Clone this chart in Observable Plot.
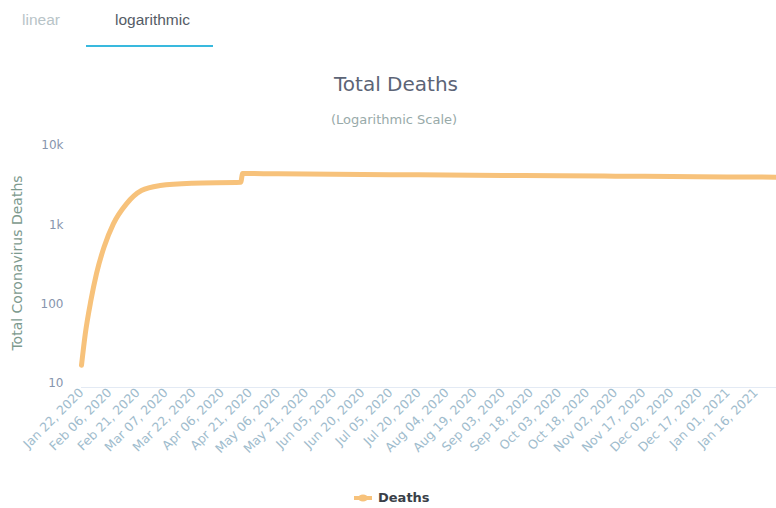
<!DOCTYPE html>
<html>
<head>
<meta charset="utf-8">
<script src="https://cdn.jsdelivr.net/npm/d3@7"></script>
<script src="https://cdn.jsdelivr.net/npm/@observablehq/plot@0.6"></script>
<style>
  html, body { margin: 0; padding: 0; background: #fff; }
  #wrap { position: relative; width: 776px; height: 508px; overflow: hidden; font-family: "DejaVu Sans", sans-serif; }
  .tab { position: absolute; top: 11px; font-family: "Liberation Sans", Arial, sans-serif; font-size: 15.5px; }
  #t1 { left: 22px; color: #b8c4c8; }
  #t2 { left: 115px; color: #555c66; }
  #ul { position: absolute; left: 86px; top: 45px; width: 127px; height: 2px; background: #39b9de; }
  #title { position: absolute; left: 246px; width: 300px; top: 72px; text-align: center; font-size: 20px; color: #5c6476; }
  #subtitle { position: absolute; left: 244px; width: 300px; top: 112px; text-align: center; font-size: 13px; color: #98aaa9; }
  #ytitle { position: absolute; left: 17px; top: 263px; transform: translate(-50%, -50%) rotate(-90deg); white-space: nowrap; font-size: 14px; color: #7d9a8e; }
  #chart { position: absolute; left: 0; top: 130px; }
  #legend { position: absolute; top: 490px; left: 354px; font-size: 13px; font-weight: bold; color: #3a3f48; display: flex; align-items: center; }
  #legend svg { margin-right: 6px; }
</style>
</head>
<body>
<div id="wrap">
  <div class="tab" id="t1">linear</div>
  <div class="tab" id="t2">logarithmic</div>
  <div id="ul"></div>
  <div id="title">Total Deaths</div>
  <div id="subtitle">(Logarithmic Scale)</div>
  <div id="ytitle">Total Coronavirus Deaths</div>
  <div id="chart"></div>
  <div id="legend"><svg width="18" height="10"><line x1="0" y1="5" x2="18" y2="5" stroke="#f7c27b" stroke-width="4"/><ellipse cx="9" cy="5" rx="5" ry="3.5" fill="#f7c27b"/></svg>Deaths</div>
</div>
<script>
// Dates and totals
const dates = [
  "2020-01-22", "2020-01-24", "2020-01-27", "2020-01-30", "2020-02-03",
  "2020-02-08", "2020-02-15", "2020-02-23", "2020-03-04", "2020-03-21", "2020-04-16",
  "2020-04-17", "2020-05-06", "2020-06-05", "2020-07-05", "2020-08-04", "2020-09-03",
  "2020-10-03", "2020-11-02", "2020-12-02", "2021-01-01", "2021-01-27"
];
const deaths = [
  17, 42, 111, 243, 522,
  1030, 1840, 2710, 3130, 3350, 3440,
  4430, 4400, 4340, 4290, 4250, 4200,
  4150, 4110, 4060, 4020, 3990
];

const tickLabels = ["Jan 22, 2020", "Feb 06, 2020", "Feb 21, 2020", "Mar 07, 2020", "Mar 22, 2020", "Apr 06, 2020", "Apr 21, 2020", "May 06, 2020", "May 21, 2020", "Jun 05, 2020", "Jun 20, 2020", "Jul 05, 2020", "Jul 20, 2020", "Aug 04, 2020", "Aug 19, 2020", "Sep 03, 2020", "Sep 18, 2020", "Oct 03, 2020", "Oct 18, 2020", "Nov 02, 2020", "Nov 17, 2020", "Dec 02, 2020", "Dec 17, 2020", "Jan 01, 2021", "Jan 16, 2021"];
const yTicks = [10, 100, 1000, 10000];
const yTickLabels = ["10", "100", "1k", "10k"];
const xDomain = ["2020-01-22", "2021-01-27"];

const parse = d3.utcParse("%Y-%m-%d");
const parseLabel = d3.utcParse("%b %d, %Y");
const data = dates.map((d, i) => ({date: parse(d), deaths: deaths[i]}));
const tickDates = tickLabels.map(parseLabel);
const labelOf = new Map(tickDates.map((d, i) => [+d, tickLabels[i]]));

const chart = Plot.plot({
  width: 776,
  height: 345,
  marginTop: 15,
  marginBottom: 92,
  marginLeft: 81,
  marginRight: 0,
  style: {fontFamily: "DejaVu Sans, sans-serif", background: "transparent"},
  x: {type: "utc", domain: xDomain.map(parse)},
  y: {type: "log", domain: [10, 10000]},
  marks: [
    Plot.ruleY([10], {stroke: "#e3eaf4", strokeWidth: 1, dy: 4}),
    Plot.axisY({ticks: yTicks, tickSize: 0, tickPadding: 18, tickFormat: d => yTickLabels[yTicks.indexOf(d)], fill: "#8795ad", fontSize: 12, label: null}),
    Plot.axisX({ticks: tickDates, tickSize: 0, tickPadding: 7, tickRotate: -45, tickFormat: d => labelOf.get(+d), fill: "#a0bccd", fontSize: 12.5, label: null}),
    Plot.line(data, {x: "date", y: "deaths", stroke: "#f7c27b", strokeWidth: 5, strokeLinejoin: "round", curve: "monotone-x"})
  ]
});
document.getElementById("chart").appendChild(chart);
</script>
</body>
</html>
